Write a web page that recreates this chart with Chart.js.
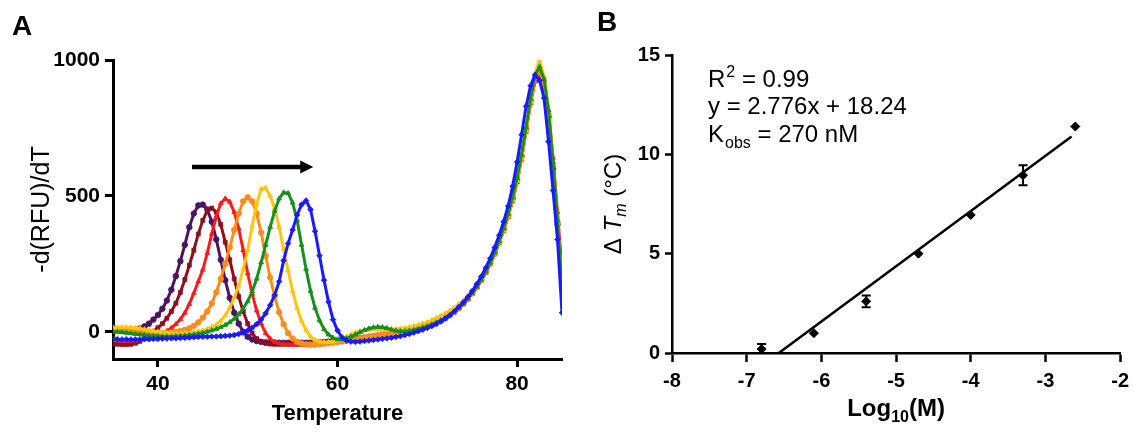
<!DOCTYPE html>
<html><head><meta charset="utf-8">
<script src="https://cdn.jsdelivr.net/npm/chart.js@4.4.0/dist/chart.umd.min.js"></script>
<style>
html,body{margin:0;padding:0;background:#fff;}
#wrap{position:relative;width:1136px;height:434px;overflow:hidden;background:#fff;}
canvas{position:absolute;top:0;}
#ca{left:0;} #cb{left:580px;}
</style></head><body>
<div id="wrap"><canvas id="ca" width="580" height="434"></canvas><canvas id="cb" width="556" height="434"></canvas></div>
<script>
// ---------- Panel A data ----------
const TEMP = [35,35.5,36,36.5,37,37.5,38,38.5,39,39.5,40,40.5,41,41.5,42,42.5,43,43.5,44,44.5,45,45.5,46,46.5,47,47.5,48,48.5,49,49.5,50,50.5,51,51.5,52,52.5,53,53.5,54,54.5,55,55.5,56,56.5,57,57.5,58,58.5,59,59.5,60,60.5,61,61.5,62,62.5,63,63.5,64,64.5,65,65.5,66,66.5,67,67.5,68,68.5,69,69.5,70,70.5,71,71.5,72,72.5,73,73.5,74,74.5,75,75.5,76,76.5,77,77.5,78,78.5,79,79.5,80,80.5,81,81.5,82,82.5,83,83.5,84,84.5,85];
const PURPLE = [5,5,5,5,6,8,12,20,30,45,
62,85,115,155,205,260,320,385,435,465,
468,450,405,340,265,190,125,70,30,0,
-18,-28,-34,-37,-39,-40,-40,-40,-40,-40,
-40,-40,-40,-40,-40,-39,-38,-37,-36,-35,
-35,-34,-32,-30,-27,-24,-21,-18,-16,-14,
-12,-10,-8,-6,-4,-1,2,6,10,15,
20,26,33,41,50,61,73,87,103,121,
142,165,191,220,253,290,332,378,430,490,
560,645,745,850,925,950,905,790,600,395,
175];
const MAROON = [-45,-46,-47,-47,-46,-42,-35,-25,-12,2,
15,30,50,75,105,145,192,245,300,360,
410,445,455,440,395,330,265,195,130,75,
30,-5,-25,-36,-42,-45,-46,-46,-46,-46,
-46,-46,-46,-46,-45,-43,-41,-39,-37,-36,
-35,-34,-32,-30,-27,-24,-21,-18,-16,-14,
-12,-10,-8,-6,-4,-1,2,6,10,15,
20,26,33,41,50,61,73,87,103,121,
142,165,191,220,253,290,332,378,430,490,
560,645,745,850,930,955,910,795,605,400,
178];
const RED = [-30,-32,-33,-33,-33,-32,-30,-27,-23,-18,
-12,-5,3,14,28,46,70,102,142,185,
228,290,360,425,472,490,478,440,380,300,
215,140,78,30,-5,-25,-37,-43,-46,-47,
-47,-47,-47,-47,-47,-46,-45,-42,-40,-37,
-35,-34,-32,-30,-27,-24,-21,-18,-16,-14,
-12,-10,-8,-6,-4,-1,2,6,10,15,
20,26,33,41,50,61,73,87,103,121,
140,162,188,216,248,284,325,370,422,480,
550,635,735,840,925,960,925,815,640,440,
225];
const ORANGE = [5,5,4,3,2,0,-2,-4,-5,-6,
-6,-5,-4,-2,0,3,7,13,22,35,
52,75,105,145,195,250,310,375,435,480,
495,480,435,365,280,200,130,72,28,-5,
-25,-37,-43,-46,-47,-47,-46,-44,-42,-40,
-37,-35,-32,-30,-27,-24,-21,-18,-16,-14,
-12,-10,-8,-6,-4,-1,2,6,10,15,
20,26,33,41,50,61,73,87,103,121,
142,165,191,220,253,290,332,378,430,490,
560,645,745,850,930,958,915,800,612,405,
172];
const YELLOW = [15,16,17,17,16,15,12,9,6,3,
0,-2,-4,-5,-6,-6,-5,-4,-2,1,
5,10,18,25,40,60,88,125,170,230,
300,390,470,525,530,500,455,385,305,225,
150,88,40,5,-18,-30,-36,-38,-38,-36,
-32,-26,-18,-10,-3,2,5,7,8,8,
8,8,9,10,12,14,17,21,25,30,
36,43,51,59,68,78,89,101,115,131,
150,171,195,222,253,288,328,373,425,485,
555,640,740,850,950,1000,940,820,620,400,
160];
const GREEN = [0,0,-2,-4,-6,-8,-10,-12,-14,-15,
-16,-17,-17,-17,-16,-15,-14,-12,-10,-7,
-4,0,5,10,17,25,35,48,64,85,
112,148,195,255,320,385,445,490,512,510,
475,410,320,230,150,88,42,10,-10,-22,
-28,-28,-24,-18,-10,-2,6,12,16,18,
17,13,8,4,2,2,4,7,11,16,
21,27,34,42,51,62,74,88,104,122,
143,166,192,221,254,291,333,380,433,495,
565,652,752,858,945,975,930,815,625,410,
165];
const BLUE = [-25,-27,-28,-28,-28,-28,-28,-27,-27,-26,
-26,-25,-25,-24,-24,-23,-22,-21,-20,-19,
-18,-18,-17,-17,-16,-15,-14,-12,-8,-3,
5,15,28,45,68,98,135,185,262,325,
375,430,468,483,450,370,280,190,110,45,
5,-20,-32,-36,-37,-36,-34,-32,-30,-28,
-26,-24,-22,-19,-16,-12,-8,-3,2,8,
14,21,29,38,49,61,75,91,108,128,
150,175,203,235,270,310,355,405,462,535,
625,725,830,905,945,925,860,700,520,340,
70];
const X_TICKS_A = [40, 60, 80];
const Y_TICKS_A = [0, 500, 1000];
const ARROW_A = [43.8, 57.3, 606]; // from T, to T, at value

// ---------- Panel B data ----------
const LOGM = [-6.8, -6.1, -5.4, -4.7, -4.0, -3.3, -2.6];
const DTM = [0.2, 1.0, 2.6, 5.0, 6.95, 8.95, 11.4];
const DTM_ERR = [0.25, 0, 0.3, 0, 0, 0.5, 0];
const FIT_X = [-6.57, -2.65];
const FIT_Y = [0, 10.9];
const X_TICKS_B = [-8, -7, -6, -5, -4, -3, -2];
const Y_TICKS_B = [0, 5, 10, 15];

const FF = '"Liberation Sans", Arial, sans-serif';
const tickFontA = {family: FF, size: 21, weight: 'bold'};
const tickFontB = {family: FF, size: 20, weight: 'bold'};

const seriesA = [
  {name: 'purple', data: PURPLE, color: '#4a1466', style: 'circle', order: 7},
  {name: 'maroon', data: MAROON, color: '#8c1020', style: 'rect', order: 6},
  {name: 'red', data: RED, color: '#ff1a1a', style: 'triangle', order: 5},
  {name: 'orange', data: ORANGE, color: '#ff8c1a', style: 'circle', order: 4},
  {name: 'yellow', data: YELLOW, color: '#ffc510', style: 'triangle', order: 3},
  {name: 'green', data: GREEN, color: '#16901a', style: 'triangle', order: 2},
  {name: 'blue', data: BLUE, color: '#1a1aff', style: 'rectRot', order: 1}
];

const arrowPlugin = {
  id: 'arrowA',
  afterDatasetsDraw(chart) {
    const {ctx, scales: {x, y}} = chart;
    const x0 = x.getPixelForValue(ARROW_A[0]);
    const x1 = x.getPixelForValue(ARROW_A[1]);
    const yy = y.getPixelForValue(ARROW_A[2]);
    ctx.save();
    ctx.strokeStyle = '#000'; ctx.fillStyle = '#000'; ctx.lineWidth = 4.5;
    ctx.beginPath(); ctx.moveTo(x0, yy); ctx.lineTo(x1 - 10, yy); ctx.stroke();
    ctx.beginPath(); ctx.moveTo(x1, yy); ctx.lineTo(x1 - 13, yy - 6.5); ctx.lineTo(x1 - 13, yy + 6.5); ctx.closePath(); ctx.fill();
    ctx.restore();
  },
  afterDraw(chart) {
    const ctx = chart.ctx;
    ctx.save();
    ctx.fillStyle = '#000';
    ctx.font = 'bold 28px ' + FF;
    ctx.textBaseline = 'alphabetic';
    ctx.fillText('A', 12, 35);
    ctx.restore();
  }
};

new Chart(document.getElementById('ca'), {
  type: 'line',
  data: {
    datasets: seriesA.map(s => ({
      label: s.name,
      data: TEMP.map((t, i) => ({x: t, y: s.data[i]})),
      borderColor: s.color, backgroundColor: s.color,
      pointBackgroundColor: s.color, pointBorderColor: s.color,
      pointStyle: s.style, pointRadius: 2.8, pointBorderWidth: 0.8,
      borderWidth: 3, tension: 0, order: s.order
    }))
  },
  options: {
    responsive: false, animation: false, devicePixelRatio: 1,
    layout: {padding: {left: 27, right: 18, top: 60, bottom: 7}},
    plugins: {legend: {display: false}, tooltip: {enabled: false}},
    scales: {
      x: {
        type: 'linear', min: 35, max: 85,
        afterBuildTicks: s => { s.ticks = X_TICKS_A.map(v => ({value: v})); },
        afterFit: s => { s.height = 68; },
        grid: {drawOnChartArea: false, drawTicks: true, tickLength: 8, tickWidth: 3, tickColor: '#000'},
        border: {color: '#000', width: 3},
        ticks: {font: tickFontA, color: '#000', padding: 5, callback: v => String(v), maxRotation: 0},
        title: {display: true, text: 'Temperature', font: {family: FF, size: 22, weight: 'bold'}, color: '#000', padding: 0}
      },
      y: {
        type: 'linear', min: -100, max: 1000,
        afterBuildTicks: s => { s.ticks = Y_TICKS_A.map(v => ({value: v})); },
        afterFit: s => { s.width = 86; },
        grid: {drawOnChartArea: false, drawTicks: true, tickLength: 8, tickWidth: 3, tickColor: '#000'},
        border: {color: '#000', width: 3},
        ticks: {font: tickFontA, color: '#000', padding: 5, callback: v => String(v)},
        title: {display: true, text: '-d(RFU)/dT', font: {family: FF, size: 25, weight: 'normal'}, color: '#000', padding: 0}
      }
    }
  },
  plugins: [arrowPlugin]
});

// ---------- Panel B ----------
const annB = {
  id: 'annB',
  afterDatasetsDraw(chart) {
    const {ctx, scales: {x, y}} = chart;
    ctx.save();
    ctx.strokeStyle = '#000'; ctx.lineWidth = 2;
    LOGM.forEach((lx, i) => {
      const e = DTM_ERR[i];
      if (!e) return;
      const px = x.getPixelForValue(lx);
      const yt = y.getPixelForValue(DTM[i] + e);
      const yb = y.getPixelForValue(Math.max(DTM[i] - e, 0));
      ctx.beginPath();
      ctx.moveTo(px, yt); ctx.lineTo(px, yb);
      ctx.moveTo(px - 4.5, yt); ctx.lineTo(px + 4.5, yt);
      ctx.moveTo(px - 4.5, yb); ctx.lineTo(px + 4.5, yb);
      ctx.stroke();
    });
    ctx.restore();
  },
  afterDraw(chart) {
    const ctx = chart.ctx;
    ctx.save();
    ctx.fillStyle = '#000';
    ctx.textBaseline = 'alphabetic';
    ctx.textAlign = 'left';
    ctx.font = 'bold 28px ' + FF;
    ctx.fillText('B', 17, 31);
    const tx = 128;
    ctx.font = '24px ' + FF;
    ctx.fillText('R', tx, 87);
    let w = ctx.measureText('R').width;
    ctx.font = '16px ' + FF;
    ctx.fillText('2', tx + w + 1, 77);
    let w2 = ctx.measureText('2').width;
    ctx.font = '24px ' + FF;
    ctx.fillText(' = 0.99', tx + w + w2 + 1, 87);
    ctx.fillText('y = 2.776x + 18.24', tx, 114);
    ctx.fillText('K', tx, 142);
    w = ctx.measureText('K').width;
    ctx.font = '16px ' + FF;
    ctx.fillText('obs', tx + w + 1, 148);
    w2 = ctx.measureText('obs').width;
    ctx.font = '24px ' + FF;
    ctx.fillText(' = 270 nM', tx + w + w2 + 1, 142);

    const parts = [
      {t: 'Log', f: 'bold 24px ' + FF, dy: 0},
      {t: '10', f: 'bold 16px ' + FF, dy: 6},
      {t: '(M)', f: 'bold 24px ' + FF, dy: 0}
    ];
    let tot = 0;
    parts.forEach(p => { ctx.font = p.f; p.w = ctx.measureText(p.t).width; tot += p.w; });
    let cx = (chart.chartArea.left + chart.chartArea.right) / 2 - tot / 2;
    parts.forEach(p => { ctx.font = p.f; ctx.fillText(p.t, cx, 416 + p.dy); cx += p.w; });

    const yparts = [
      {t: 'Δ ', f: '24px ' + FF, dy: 0},
      {t: 'T', f: 'italic 24px ' + FF, dy: 0},
      {t: 'm', f: 'italic 16px ' + FF, dy: 5},
      {t: ' (°C)', f: '24px ' + FF, dy: 0}
    ];
    tot = 0;
    yparts.forEach(p => { ctx.font = p.f; p.w = ctx.measureText(p.t).width; tot += p.w; });
    const cyy = (chart.chartArea.top + chart.chartArea.bottom) / 2;
    ctx.translate(41, cyy);
    ctx.rotate(-Math.PI / 2);
    let px = -tot / 2;
    yparts.forEach(p => { ctx.font = p.f; ctx.fillText(p.t, px, p.dy); px += p.w; });
    ctx.restore();
  }
};

new Chart(document.getElementById('cb'), {
  type: 'scatter',
  data: {
    datasets: [
      {
        type: 'line', label: 'fit',
        data: FIT_X.map((v, i) => ({x: v, y: FIT_Y[i]})),
        borderColor: '#000', borderWidth: 2.5, pointRadius: 0, tension: 0, order: 2
      },
      {
        type: 'scatter', label: 'ΔTm',
        data: LOGM.map((v, i) => ({x: v, y: DTM[i]})),
        pointStyle: 'rectRot', pointRadius: 4.5, pointBackgroundColor: '#000', pointBorderColor: '#000',
        clip: false, order: 1
      }
    ]
  },
  options: {
    responsive: false, animation: false, devicePixelRatio: 1,
    layout: {padding: {left: 42, right: 14, top: 55, bottom: 10}},
    plugins: {legend: {display: false}, tooltip: {enabled: false}},
    scales: {
      x: {
        type: 'linear', min: -8, max: -2,
        afterBuildTicks: s => { s.ticks = X_TICKS_B.map(v => ({value: v})); },
        afterFit: s => { s.height = 71; },
        grid: {drawOnChartArea: false, drawTicks: true, tickLength: 9, tickWidth: 2.5, tickColor: '#000'},
        border: {color: '#000', width: 2.5},
        ticks: {font: tickFontB, color: '#000', padding: 7, callback: v => String(v), maxRotation: 0}
      },
      y: {
        type: 'linear', min: 0, max: 15,
        afterBuildTicks: s => { s.ticks = Y_TICKS_B.map(v => ({value: v})); },
        afterFit: s => { s.width = 50; },
        grid: {drawOnChartArea: false, drawTicks: true, tickLength: 7, tickWidth: 2.5, tickColor: '#000'},
        border: {color: '#000', width: 2.5},
        ticks: {font: tickFontB, color: '#000', padding: 5, callback: v => String(v)}
      }
    }
  },
  plugins: [annB]
});
</script>
</body></html>
